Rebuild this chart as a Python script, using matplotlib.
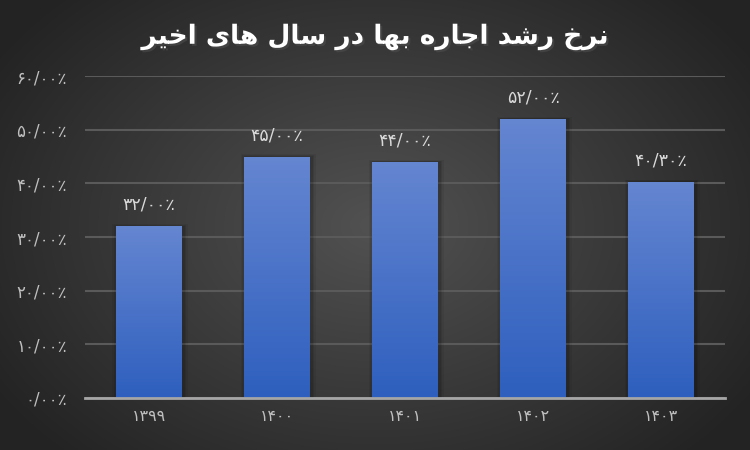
import numpy as np
import matplotlib
matplotlib.use("Agg")
import matplotlib.pyplot as plt
import matplotlib.patheffects as pe

plt.rcParams["font.family"] = ["DejaVu Sans"]

# Data
years = ["۱۳۹۹", "۱۴۰۰", "۱۴۰۱", "۱۴۰۲", "۱۴۰۳"]
growth = [0.32, 0.45, 0.44, 0.52, 0.403]
value_labels = ["۳۲/۰۰٪", "۴۵/۰۰٪", "۴۴/۰۰٪", "۵۲/۰۰٪", "۴۰/۳۰٪"]
y_ticks = [0.0, 0.1, 0.2, 0.3, 0.4, 0.5, 0.6]
y_tick_labels = ["۰/۰۰٪", "۱۰/۰۰٪", "۲۰/۰۰٪", "۳۰/۰۰٪", "۴۰/۰۰٪", "۵۰/۰۰٪", "۶۰/۰۰٪"]
title = "نرخ رشد اجاره بها در سال های اخیر"

# simple arabic shaping (isolated, final, initial, medial), matplotlib has no shaping
forms = {
    "ا": ("\ufe8d", "\ufe8e", None, None),
    "ب": ("\ufe8f", "\ufe90", "\ufe91", "\ufe92"),
    "ج": ("\ufe9d", "\ufe9e", "\ufe9f", "\ufea0"),
    "خ": ("\ufea5", "\ufea6", "\ufea7", "\ufea8"),
    "د": ("\ufea9", "\ufeaa", None, None),
    "ر": ("\ufead", "\ufeae", None, None),
    "س": ("\ufeb1", "\ufeb2", "\ufeb3", "\ufeb4"),
    "ش": ("\ufeb5", "\ufeb6", "\ufeb7", "\ufeb8"),
    "ل": ("\ufedd", "\ufede", "\ufedf", "\ufee0"),
    "ن": ("\ufee5", "\ufee6", "\ufee7", "\ufee8"),
    "ه": ("\ufee9", "\ufeea", "\ufeeb", "\ufeec"),
    "ی": ("\ufbfc", "\ufbfd", "\ufbfe", "\ufbff"),
}


def shape(text):
    out = []
    for i, ch in enumerate(text):
        if ch not in forms:
            out.append(ch)
            continue
        prev = text[i - 1] if i > 0 else ""
        nxt = text[i + 1] if i + 1 < len(text) else ""
        join_prev = prev in forms and forms[prev][2] is not None
        join_next = nxt in forms and forms[ch][2] is not None
        iso, fin, ini, med = forms[ch]
        if join_prev and join_next:
            out.append(med)
        elif join_prev:
            out.append(fin)
        elif join_next:
            out.append(ini)
        else:
            out.append(iso)
    return "".join(out)[::-1]


fig = plt.figure(figsize=(7.5, 4.5), dpi=100)

# radial background
bg = fig.add_axes([0, 0, 1, 1], zorder=-10)
yy, xx = np.mgrid[0:450, 0:750]
r = np.sqrt(((xx - 375) / 420.0) ** 2 + ((yy - 225) / 300.0) ** 2)
shade = np.clip(0.32 - 0.17 * r, 0.14, 0.32)
bg.imshow(np.dstack([shade, shade, shade]), extent=[0, 1, 0, 1], aspect="auto")
bg.axis("off")

ax = fig.add_axes([0.1133, 0.1156, 0.8534, 0.7154])
ax.set_facecolor("none")
x = np.arange(len(years))

# soft shadow behind bars
for k, a in [(0.08, 0.06), (0.05, 0.08), (0.025, 0.1)]:
    ax.bar(x + 0.01, np.array(growth) + k * 0.05, width=0.51 + k, color="black",
           alpha=a, zorder=2, linewidth=0)

bars = ax.bar(x, growth, width=0.51, color="none", zorder=3, linewidth=0)
grad = np.linspace(0, 1, 256).reshape(-1, 1)
top_c = np.array([0x65, 0x86, 0xd1]) / 255
bot_c = np.array([0x2e, 0x5f, 0xbe]) / 255
img = top_c * (1 - grad[:, :, None]) + bot_c * grad[:, :, None]
for b in bars:
    x0, y0, w, h = b.get_x(), b.get_y(), b.get_width(), b.get_height()
    im = ax.imshow(img, extent=[x0, x0 + w, y0, y0 + h], aspect="auto", zorder=3)
    im.set_clip_path(b)

for xi, v, lab in zip(x, growth, value_labels):
    ax.annotate(lab, (xi, v), xytext=(0, 9), textcoords="offset points",
                ha="center", va="bottom", color="#d9d9d9", fontsize=12.5)

ax.set_xlim(-0.5, len(years) - 0.5)
ax.set_ylim(0, 0.6)
ax.set_yticks(y_ticks)
ax.set_yticklabels(y_tick_labels)
ax.set_xticks(x)
ax.set_xticklabels(years)
ax.tick_params(axis="y", length=0, pad=13, colors="#bfbfbf", labelsize=12)
ax.tick_params(axis="x", length=0, pad=8, colors="#bfbfbf", labelsize=11.5)
ax.yaxis.grid(True, color="#5a5a5a", linewidth=1.5, zorder=0)
ax.set_axisbelow(True)
for s in ["top", "right", "left"]:
    ax.spines[s].set_visible(False)
ax.spines["bottom"].set_color("#a6a6a6")
ax.spines["bottom"].set_linewidth(2)
ax.spines["bottom"].set_zorder(4)

fig.text(0.5, 0.918, shape(title), ha="center", va="center", color="white",
         fontsize=19, fontweight="bold",
         path_effects=[pe.withSimplePatchShadow(offset=(1.5, -1.5), alpha=0.6)])

fig.savefig("out.png", dpi=100)
